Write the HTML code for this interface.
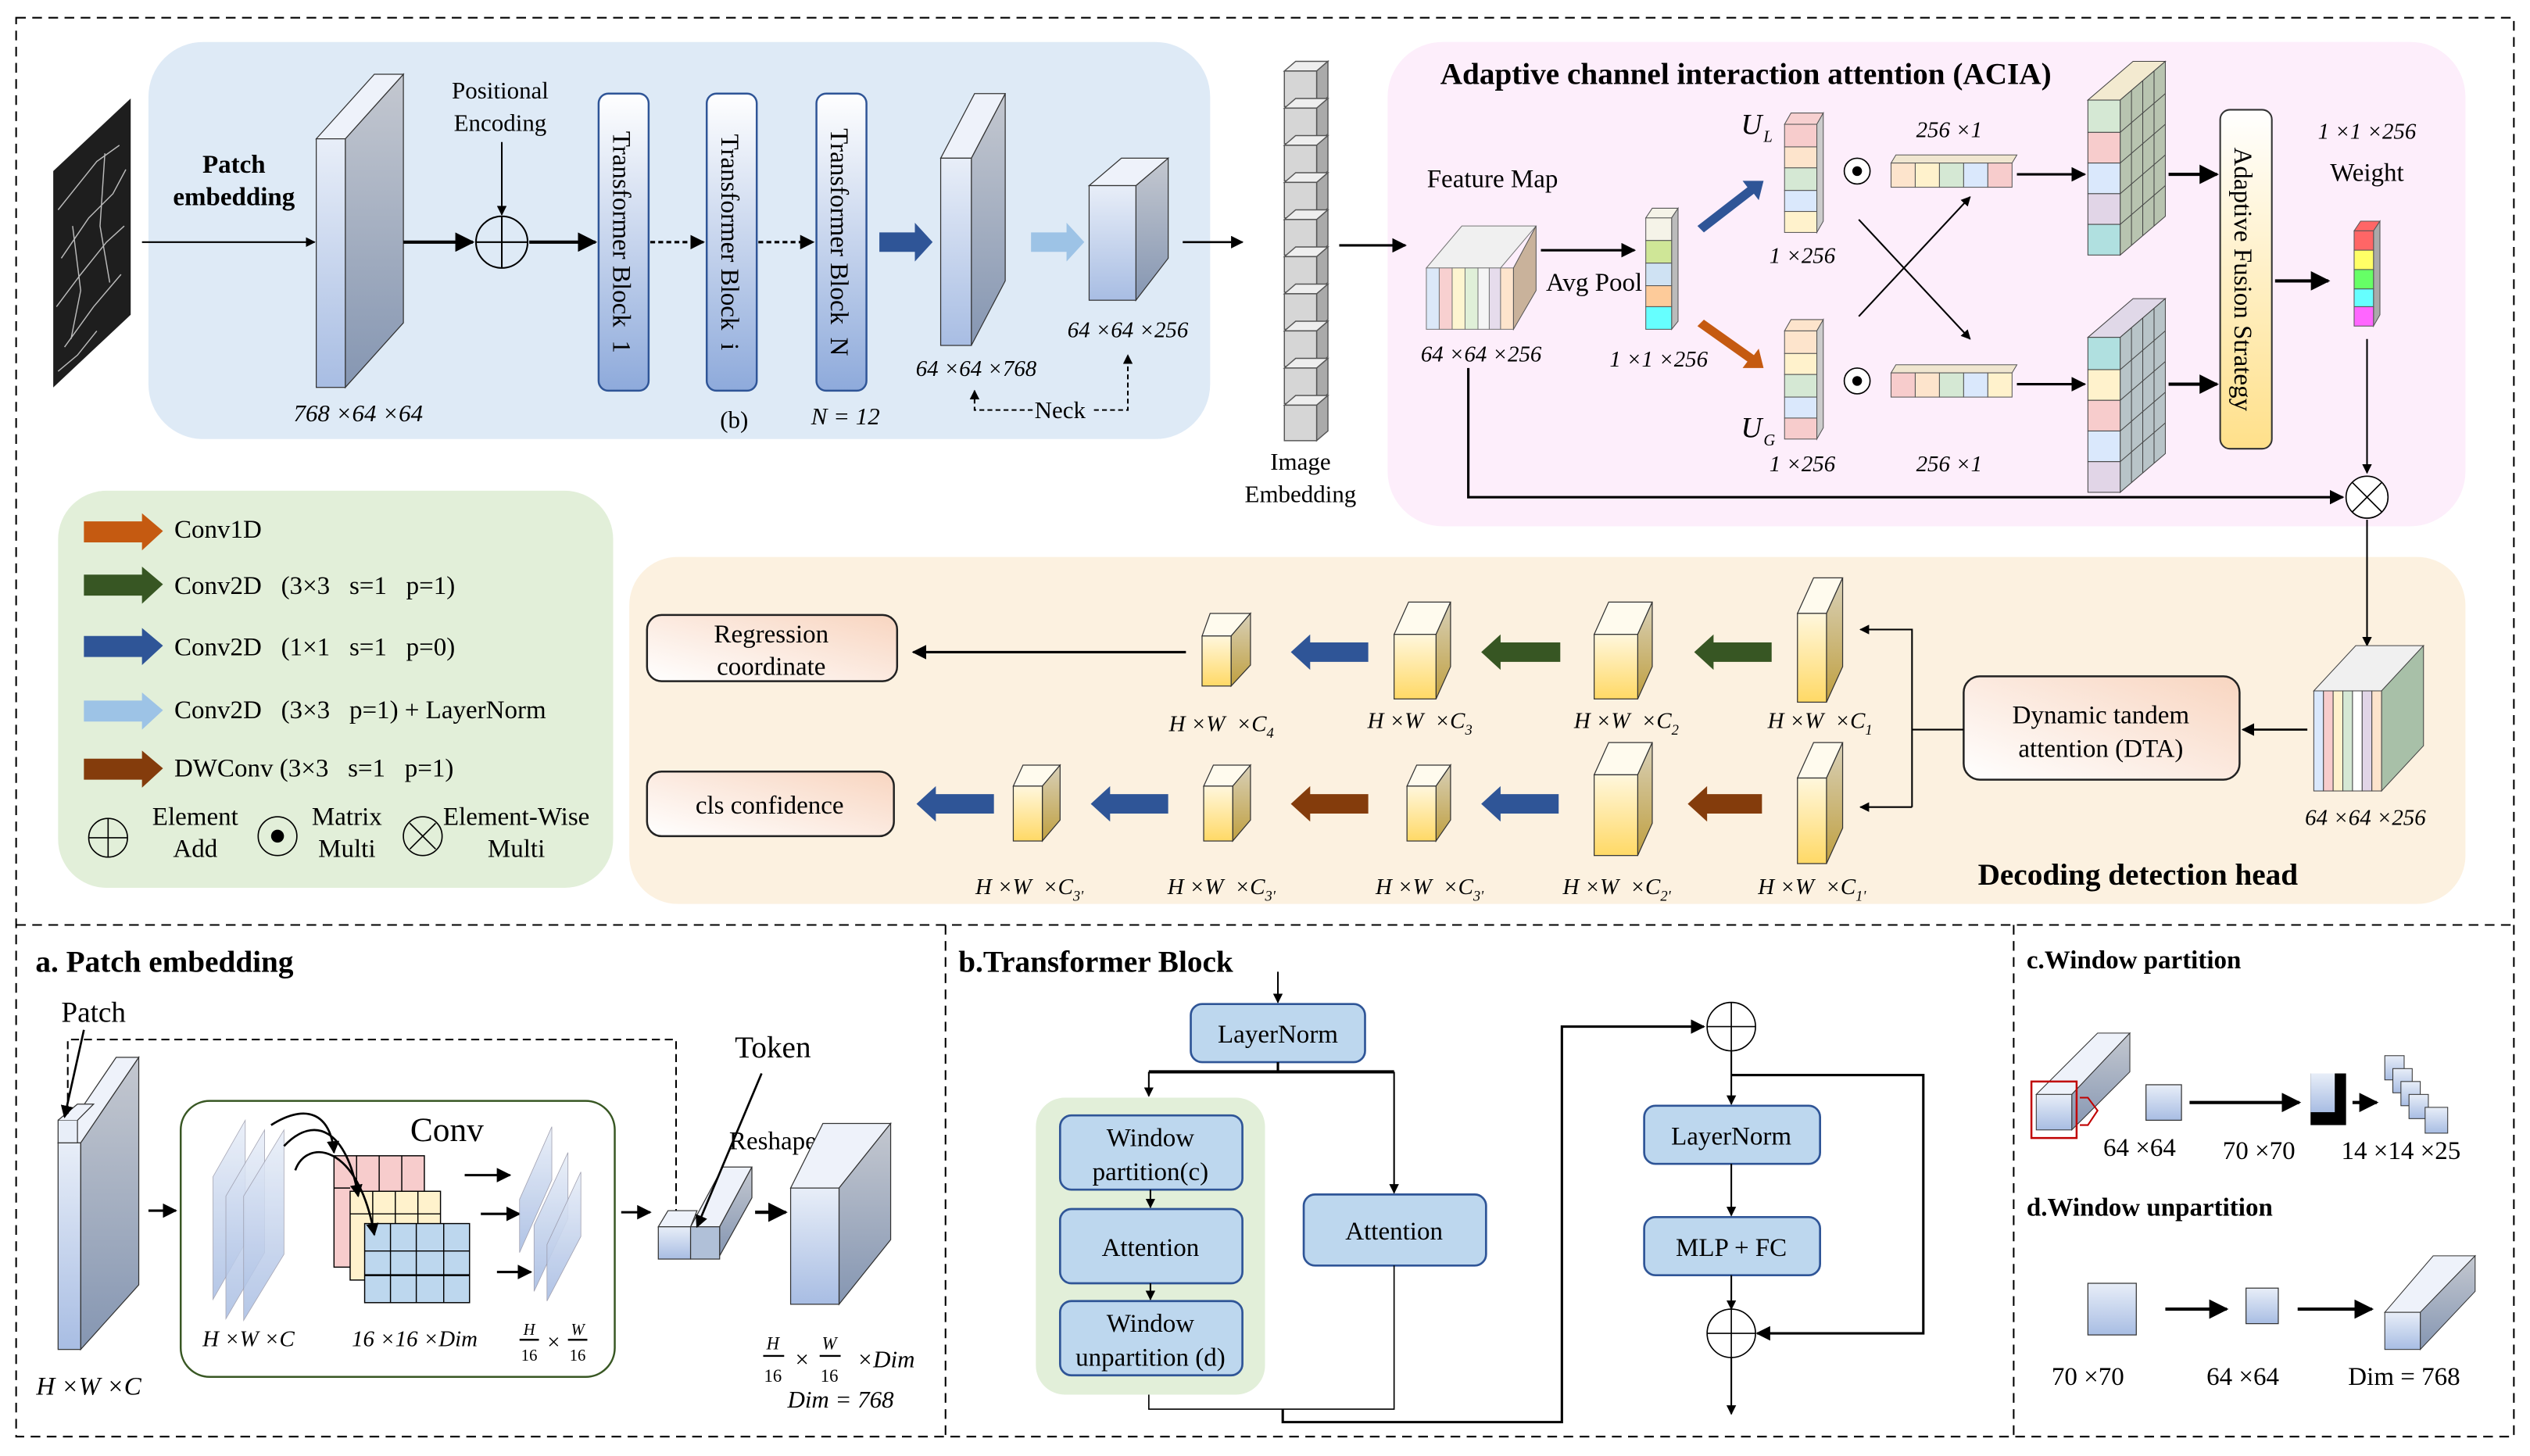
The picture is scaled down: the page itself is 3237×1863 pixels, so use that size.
<!DOCTYPE html>
<html><head><meta charset="utf-8"><style>
html,body{margin:0;padding:0;background:#fff;}
svg{display:block;font-family:"Liberation Serif",serif;}
text{white-space:pre;}
</style></head><body>
<svg width="3237" height="1863" viewBox="0 0 1568 902" preserveAspectRatio="none" xmlns="http://www.w3.org/2000/svg">
<defs>
<marker id="ah" viewBox="0 0 10 10" refX="9" refY="5" markerWidth="6" markerHeight="6" orient="auto"><path d="M0,0 L10,5 L0,10 z" fill="#000"/></marker>
<linearGradient id="gF" x1="0" y1="0" x2="0" y2="1"><stop offset="0" stop-color="#e8eef8"/><stop offset="1" stop-color="#a8bde3"/></linearGradient>
<linearGradient id="gS" x1="0" y1="0" x2="0" y2="1"><stop offset="0" stop-color="#c4c8d0"/><stop offset="1" stop-color="#8596b2"/></linearGradient>
<linearGradient id="gT" x1="0" y1="0" x2="0" y2="1"><stop offset="0" stop-color="#fff"/><stop offset="1" stop-color="#8eaadb"/></linearGradient>
<linearGradient id="gY" x1="0" y1="0" x2="0" y2="1"><stop offset="0" stop-color="#fff7dd"/><stop offset="1" stop-color="#ffd966"/></linearGradient>
<linearGradient id="gYs" x1="0" y1="0" x2="0" y2="1"><stop offset="0" stop-color="#d8d0b8"/><stop offset="1" stop-color="#c0a040"/></linearGradient>
<linearGradient id="gA" x1="0" y1="0" x2="0" y2="1"><stop offset="0" stop-color="#fff"/><stop offset="1" stop-color="#ffe08a"/></linearGradient>
<linearGradient id="gO" x1="0" y1="1" x2="1" y2="0"><stop offset="0" stop-color="#fff"/><stop offset="1" stop-color="#f8d5c0"/></linearGradient>
</defs>
<rect x="0" y="0" width="1568" height="902" fill="#fff"/>
<!-- frame -->
<g fill="none" stroke="#000" stroke-width="1" stroke-dasharray="6,4">
<rect x="10" y="11" width="1548" height="879"/>
<line x1="10" y1="573" x2="1558" y2="573"/>
<line x1="586" y1="573" x2="586" y2="890"/>
<line x1="1248" y1="573" x2="1248" y2="890"/>
</g>
<!-- background panels -->
<rect x="92" y="26" width="658" height="246" rx="34" fill="#deeaf6"/>
<rect x="860" y="26" width="668" height="300" rx="34" fill="#fdeefb"/>
<rect x="36" y="304" width="344" height="246" rx="30" fill="#e2efd9"/>
<rect x="390" y="345" width="1138" height="215" rx="30" fill="#fcf1e0"/>

<!-- SAM encoder -->
<polygon points="33,106 81,61 81,195 33,240" fill="#1e1e1e"/>
<g stroke="#bbb" stroke-width="0.7" fill="none">
<path d="M36,130 L60,100 L74,90"/><path d="M38,160 L55,135 L70,120 L78,105"/><path d="M35,190 L50,170 L66,150 L77,140"/><path d="M40,215 L58,190 L75,170"/><path d="M36,230 L48,220 L60,205"/><path d="M45,140 L50,180 L44,210"/><path d="M65,95 L62,140 L68,175"/>
</g>
<line x1="88" y1="150" x2="195" y2="150" stroke="#000" marker-end="url(#ah)"/>
<text x="145" y="107" font-size="16" font-weight="bold" text-anchor="middle">Patch</text>
<text x="145" y="127" font-size="16" font-weight="bold" text-anchor="middle">embedding</text>
<polygon points="214,86 250,46 250,200 214,240" fill="url(#gS)" stroke="#333" stroke-width="0.6"/>
<polygon points="196,86 232,46 250,46 214,86" fill="#eef2fa" stroke="#333" stroke-width="0.6"/>
<rect x="196" y="86" width="18" height="154" fill="url(#gF)" stroke="#333" stroke-width="0.6"/>
<text x="222" y="261" font-size="15" font-style="italic" text-anchor="middle">768 ×64 ×64</text>
<line x1="250" y1="150" x2="293" y2="150" stroke="#000" stroke-width="2" marker-end="url(#ah)"/>
<text x="310" y="61" font-size="15" text-anchor="middle">Positional</text>
<text x="310" y="81" font-size="15" text-anchor="middle">Encoding</text>
<line x1="311" y1="88" x2="311" y2="133" stroke="#000" marker-end="url(#ah)"/>
<circle cx="311" cy="150" r="16" fill="none" stroke="#000"/><line x1="295" y1="150" x2="327" y2="150" stroke="#000"/><line x1="311" y1="134" x2="311" y2="166" stroke="#000"/>
<line x1="328" y1="150" x2="369" y2="150" stroke="#000" stroke-width="2" marker-end="url(#ah)"/>
<g stroke="#2f5597" stroke-width="1.2" fill="url(#gT)">
<rect x="371" y="58" width="31" height="184" rx="6"/>
<rect x="438" y="58" width="31" height="184" rx="6"/>
<rect x="506" y="58" width="31" height="184" rx="6"/>
</g>
<text transform="translate(380,150) rotate(90)" font-size="16" text-anchor="middle">Transformer Block  1</text>
<text transform="translate(447,150) rotate(90)" font-size="16" text-anchor="middle">Transformer Block  i</text>
<text transform="translate(515,150) rotate(90)" font-size="16" text-anchor="middle">Transformer Block  N</text>
<line x1="403" y1="150" x2="436" y2="150" stroke="#000" stroke-width="1.5" stroke-dasharray="3,2" marker-end="url(#ah)"/>
<line x1="470" y1="150" x2="504" y2="150" stroke="#000" stroke-width="1.5" stroke-dasharray="3,2" marker-end="url(#ah)"/>
<text x="455" y="265" font-size="15" text-anchor="middle">(b)</text>
<text x="524" y="263" font-size="15" font-style="italic" text-anchor="middle">N = 12</text>
<polygon points="545,144 567,144 567,138 578,150 567,162 567,156 545,156" fill="#2f5597"/>
<polygon points="623,58 623,174 602,214 602,98" fill="url(#gS)" stroke="#333" stroke-width="0.6"/>
<polygon points="583,98 604,58 623,58 602,98" fill="#eef2fa" stroke="#333" stroke-width="0.6"/>
<rect x="583" y="98" width="19" height="116" fill="url(#gF)" stroke="#333" stroke-width="0.6"/>
<polygon points="639,144 661,144 661,138 672,150 661,162 661,156 639,156" fill="#9dc3e6"/>
<polygon points="724,98 724,160 704,186 704,115" fill="url(#gS)" stroke="#333" stroke-width="0.6"/>
<polygon points="675,115 695,98 724,98 704,115" fill="#eef2fa" stroke="#333" stroke-width="0.6"/>
<rect x="675" y="115" width="29" height="71" fill="url(#gF)" stroke="#333" stroke-width="0.6"/>
<text x="605" y="233" font-size="14" font-style="italic" text-anchor="middle">64 ×64 ×768</text>
<text x="699" y="209" font-size="14" font-style="italic" text-anchor="middle">64 ×64 ×256</text>
<polyline points="640,254 604,254 604,242" fill="none" stroke="#000" stroke-dasharray="3,2" marker-end="url(#ah)"/>
<polyline points="678,254 699,254 699,220" fill="none" stroke="#000" stroke-dasharray="3,2" marker-end="url(#ah)"/>
<text x="657" y="259" font-size="15" text-anchor="middle">Neck</text>
<line x1="733" y1="150" x2="770" y2="150" stroke="#000" stroke-width="1.3" marker-end="url(#ah)"/>
<!-- image embedding cubes -->
<g stroke="#555" stroke-width="0.7">
<g id="cb"><polygon points="796,44 803,38 823,38 816,44" fill="#eee"/><polygon points="816,44 823,38 823,60 816,66" fill="#aaa"/><rect x="796" y="44" width="20" height="22" fill="#d6d6d6"/></g>
<use href="#cb" y="23"/><use href="#cb" y="46"/><use href="#cb" y="69"/><use href="#cb" y="92"/><use href="#cb" y="115"/><use href="#cb" y="138"/><use href="#cb" y="161"/><use href="#cb" y="184"/><use href="#cb" y="207"/>
</g>
<text x="806" y="291" font-size="15" text-anchor="middle">Image</text>
<text x="806" y="311" font-size="15" text-anchor="middle">Embedding</text>
<line x1="830" y1="152" x2="871" y2="152" stroke="#000" stroke-width="1.5" marker-end="url(#ah)"/>

<!-- ACIA -->
<text x="1082" y="52" font-size="19" font-weight="bold" text-anchor="middle">Adaptive channel interaction attention (ACIA)</text>
<text x="925" y="116" font-size="16" text-anchor="middle">Feature Map</text>
<g stroke="#777" stroke-width="0.5">
<polygon points="884,166 906,140 952,140 930,166" fill="#f0f0f0"/>
<rect x="884" y="166" width="8" height="38" fill="#dbe8f8"/><rect x="892" y="166" width="8" height="38" fill="#f8d0d0"/><rect x="900" y="166" width="8" height="38" fill="#fdf5d0"/><rect x="908" y="166" width="8" height="38" fill="#e0f0d8"/><rect x="916" y="166" width="7" height="38" fill="#f5f5f5"/><rect x="923" y="166" width="7" height="38" fill="#e6dcec"/><rect x="930" y="166" width="8" height="38" fill="#fde4cc"/>
</g>
<polygon points="938,166 952,140 952,180 938,204" fill="#c9b29b" stroke="#555" stroke-width="0.5"/>
<text x="918" y="224" font-size="14" font-style="italic" text-anchor="middle">64 ×64 ×256</text>
<line x1="955" y1="155" x2="1013" y2="155" stroke="#000" stroke-width="1.5" marker-end="url(#ah)"/>
<text x="988" y="180" font-size="16" text-anchor="middle">Avg Pool</text>
<g stroke="#555" stroke-width="0.5">
<polygon points="1020,135 1024,129 1040,129 1036,135" fill="#f5f3e8"/><polygon points="1036,135 1040,129 1040,199 1036,204" fill="#bbb"/>
<rect x="1020" y="135" width="16" height="14" fill="#f5f3e8"/><rect x="1020" y="149" width="16" height="14" fill="#cfe697"/><rect x="1020" y="163" width="16" height="14" fill="#cfe2f3"/><rect x="1020" y="177" width="16" height="13" fill="#fdcb9a"/><rect x="1020" y="190" width="16" height="14" fill="#66ffff"/>
</g>
<text x="1028" y="227" font-size="14" font-style="italic" text-anchor="middle">1 ×1 ×256</text>
<polygon points="1052,140 1083,116 1080,112 1093,112 1090,124 1087,120 1056,144" fill="#2f5597"/>
<polygon points="1052,202 1056,198 1087,220 1090,216 1093,228 1080,228 1083,224" fill="#c55a11"/>
<g stroke="#555" stroke-width="0.5">
<polygon points="1106,77 1110,70 1130,70 1126,77" fill="#f7d0d0"/><polygon points="1126,77 1130,70 1130,137 1126,144" fill="#ccc"/>
<rect x="1106" y="77" width="20" height="14" fill="#f7cccc"/><rect x="1106" y="91" width="20" height="13" fill="#fde4cc"/><rect x="1106" y="104" width="20" height="14" fill="#d5e8d4"/><rect x="1106" y="118" width="20" height="13" fill="#dae8fc"/><rect x="1106" y="131" width="20" height="13" fill="#fff2cc"/>
<polygon points="1106,205 1110,198 1130,198 1126,205" fill="#fde4cc"/><polygon points="1126,205 1130,198 1130,265 1126,272" fill="#ccc"/>
<rect x="1106" y="205" width="20" height="14" fill="#fde4cc"/><rect x="1106" y="219" width="20" height="13" fill="#fff2cc"/><rect x="1106" y="232" width="20" height="14" fill="#d5e8d4"/><rect x="1106" y="246" width="20" height="13" fill="#dae8fc"/><rect x="1106" y="259" width="20" height="13" fill="#f7cccc"/>
</g>
<text x="1079" y="83" font-size="18" font-style="italic">U</text><text x="1093" y="88" font-size="10" font-style="italic">L</text>
<text x="1079" y="271" font-size="18" font-style="italic">U</text><text x="1093" y="276" font-size="10" font-style="italic">G</text>
<text x="1117" y="163" font-size="14" font-style="italic" text-anchor="middle">1 ×256</text>
<text x="1117" y="292" font-size="14" font-style="italic" text-anchor="middle">1 ×256</text>
<circle cx="1151" cy="106" r="8" fill="#fff" stroke="#000" stroke-width="0.8"/><circle cx="1151" cy="106" r="3" fill="#000"/>
<circle cx="1151" cy="236" r="8" fill="#fff" stroke="#000" stroke-width="0.8"/><circle cx="1151" cy="236" r="3" fill="#000"/>
<g stroke="#555" stroke-width="0.5">
<polygon points="1172,101 1175,96 1250,96 1247,101" fill="#f0e6d0"/>
<rect x="1172" y="101" width="15" height="15" fill="#fde4cc"/><rect x="1187" y="101" width="15" height="15" fill="#fff2cc"/><rect x="1202" y="101" width="15" height="15" fill="#d5e8d4"/><rect x="1217" y="101" width="15" height="15" fill="#dae8fc"/><rect x="1232" y="101" width="15" height="15" fill="#f7cccc"/>
<polygon points="1172,231 1175,226 1250,226 1247,231" fill="#f0e6d0"/>
<rect x="1172" y="231" width="15" height="15" fill="#f7cccc"/><rect x="1187" y="231" width="15" height="15" fill="#fde4cc"/><rect x="1202" y="231" width="15" height="15" fill="#d5e8d4"/><rect x="1217" y="231" width="15" height="15" fill="#dae8fc"/><rect x="1232" y="231" width="15" height="15" fill="#fff2cc"/>
</g>
<text x="1208" y="85" font-size="14" font-style="italic" text-anchor="middle">256 ×1</text>
<text x="1208" y="292" font-size="14" font-style="italic" text-anchor="middle">256 ×1</text>
<line x1="1152" y1="196" x2="1221" y2="122" stroke="#000" marker-end="url(#ah)"/>
<line x1="1152" y1="136" x2="1221" y2="210" stroke="#000" marker-end="url(#ah)"/>
<line x1="1250" y1="108" x2="1292" y2="108" stroke="#000" stroke-width="1.5" marker-end="url(#ah)"/>
<line x1="1250" y1="238" x2="1292" y2="238" stroke="#000" stroke-width="1.5" marker-end="url(#ah)"/>
<g stroke="#444" stroke-width="0.5">
<polygon points="1294,62 1322,38 1342,38 1314,62" fill="#f3ead0"/>
<polygon points="1314,62 1342,38 1342,134 1314,158" fill="#b8c4b0"/>
<rect x="1294" y="62" width="20" height="20" fill="#d5e8d4"/><rect x="1294" y="82" width="20" height="19" fill="#f7cccc"/><rect x="1294" y="101" width="20" height="19" fill="#dae8fc"/><rect x="1294" y="120" width="20" height="19" fill="#e1d5e7"/><rect x="1294" y="139" width="20" height="19" fill="#b0e0e0"/>
<line x1="1314" y1="82" x2="1342" y2="58" /><line x1="1314" y1="101" x2="1342" y2="77"/><line x1="1314" y1="120" x2="1342" y2="96"/><line x1="1314" y1="139" x2="1342" y2="115"/>
<line x1="1321" y1="56" x2="1321" y2="152"/><line x1="1328" y1="50" x2="1328" y2="146"/><line x1="1335" y1="44" x2="1335" y2="140"/>
<polygon points="1294,209 1322,185 1342,185 1314,209" fill="#e0d8e8"/>
<polygon points="1314,209 1342,185 1342,281 1314,305" fill="#b8c4c8"/>
<rect x="1294" y="209" width="20" height="20" fill="#b0e0e0"/><rect x="1294" y="229" width="20" height="19" fill="#fff2cc"/><rect x="1294" y="248" width="20" height="19" fill="#f7cccc"/><rect x="1294" y="267" width="20" height="19" fill="#dae8fc"/><rect x="1294" y="286" width="20" height="19" fill="#e1d5e7"/>
<line x1="1314" y1="229" x2="1342" y2="205"/><line x1="1314" y1="248" x2="1342" y2="224"/><line x1="1314" y1="267" x2="1342" y2="243"/><line x1="1314" y1="286" x2="1342" y2="262"/>
<line x1="1321" y1="203" x2="1321" y2="299"/><line x1="1328" y1="197" x2="1328" y2="293"/><line x1="1335" y1="191" x2="1335" y2="287"/>
</g>
<line x1="1344" y1="108" x2="1374" y2="108" stroke="#000" stroke-width="2" marker-end="url(#ah)"/>
<line x1="1344" y1="238" x2="1374" y2="238" stroke="#000" stroke-width="2" marker-end="url(#ah)"/>
<rect x="1376" y="68" width="32" height="210" rx="6" fill="url(#gA)" stroke="#333" stroke-width="1"/>
<text transform="translate(1385,173) rotate(90)" font-size="16" text-anchor="middle">Adaptive Fusion Strategy</text>
<line x1="1410" y1="174" x2="1443" y2="174" stroke="#000" stroke-width="2" marker-end="url(#ah)"/>
<text x="1467" y="86" font-size="14" font-style="italic" text-anchor="middle">1 ×1 ×256</text>
<text x="1467" y="112" font-size="16" text-anchor="middle">Weight</text>
<g stroke="#555" stroke-width="0.5">
<polygon points="1459,143 1463,137 1475,137 1471,143" fill="#ff6666"/><polygon points="1471,143 1475,137 1475,195 1471,202" fill="#aaa"/>
<rect x="1459" y="143" width="12" height="12" fill="#ff6666"/><rect x="1459" y="155" width="12" height="12" fill="#ffff66"/><rect x="1459" y="167" width="12" height="12" fill="#66ff66"/><rect x="1459" y="179" width="12" height="11" fill="#66ffff"/><rect x="1459" y="190" width="12" height="12" fill="#ff66ff"/>
</g>
<line x1="1467" y1="210" x2="1467" y2="293" stroke="#000" marker-end="url(#ah)"/>
<circle cx="1467" cy="308" r="13" fill="#fff" stroke="#000" stroke-width="0.8"/>
<line x1="1458" y1="299" x2="1476" y2="317" stroke="#000" stroke-width="0.8"/><line x1="1476" y1="299" x2="1458" y2="317" stroke="#000" stroke-width="0.8"/>
<polyline points="910,228 910,308 1452,308" fill="none" stroke="#000" stroke-width="1.5" marker-end="url(#ah)"/>
<line x1="1467" y1="322" x2="1467" y2="400" stroke="#000" marker-end="url(#ah)"/>

<!-- Legend -->
<polygon points="52,323 88,323 88,318 101,329 88,341 88,336 52,336" fill="#c55a11"/>
<text x="108" y="333" font-size="16">Conv1D</text>
<polygon points="52,356 88,356 88,351 101,362 88,374 88,369 52,369" fill="#375623"/>
<text x="108" y="368" font-size="16">Conv2D   (3×3   s=1   p=1)</text>
<polygon points="52,394 88,394 88,389 101,400 88,412 88,407 52,407" fill="#2f5597"/>
<text x="108" y="406" font-size="16">Conv2D   (1×1   s=1   p=0)</text>
<polygon points="52,434 88,434 88,429 101,440 88,452 88,447 52,447" fill="#9dc3e6"/>
<text x="108" y="445" font-size="16">Conv2D   (3×3   p=1) + LayerNorm</text>
<polygon points="52,470 88,470 88,465 101,476 88,488 88,483 52,483" fill="#843c0c"/>
<text x="108" y="481" font-size="16">DWConv (3×3   s=1   p=1)</text>
<circle cx="67" cy="519" r="12" fill="none" stroke="#000" stroke-width="0.8"/><line x1="55" y1="519" x2="79" y2="519" stroke="#000" stroke-width="0.8"/><line x1="67" y1="507" x2="67" y2="531" stroke="#000" stroke-width="0.8"/>
<text x="121" y="511" font-size="16" text-anchor="middle">Element</text><text x="121" y="531" font-size="16" text-anchor="middle">Add</text>
<circle cx="172" cy="518" r="12" fill="none" stroke="#000" stroke-width="0.8"/><circle cx="172" cy="518" r="4" fill="#000"/>
<text x="215" y="511" font-size="16" text-anchor="middle">Matrix</text><text x="215" y="531" font-size="16" text-anchor="middle">Multi</text>
<circle cx="262" cy="518" r="12" fill="none" stroke="#000" stroke-width="0.8"/><line x1="254" y1="510" x2="270" y2="526" stroke="#000" stroke-width="0.8"/><line x1="270" y1="510" x2="254" y2="526" stroke="#000" stroke-width="0.8"/>
<text x="320" y="511" font-size="16" text-anchor="middle">Element-Wise</text><text x="320" y="531" font-size="16" text-anchor="middle">Multi</text>

<!-- Decoding head -->
<g stroke="#444" stroke-width="0.5">
<polygon points="1434,428 1460,400 1502,400 1476,428" fill="#f0f0f0"/>
<polygon points="1476,428 1502,400 1502,462 1476,490" fill="#a8c0a8"/>
<rect x="1434" y="428" width="6" height="62" fill="#dae8fc"/><rect x="1440" y="428" width="6" height="62" fill="#f7cccc"/><rect x="1446" y="428" width="6" height="62" fill="#fff2cc"/><rect x="1452" y="428" width="6" height="62" fill="#d5e8d4"/><rect x="1458" y="428" width="6" height="62" fill="#fff"/><rect x="1464" y="428" width="6" height="62" fill="#e1d5e7"/><rect x="1470" y="428" width="6" height="62" fill="#fde4cc"/>
</g>
<text x="1466" y="511" font-size="14" font-style="italic" text-anchor="middle">64 ×64 ×256</text>
<line x1="1430" y1="452" x2="1390" y2="452" stroke="#000" stroke-width="1.3" marker-end="url(#ah)"/>
<rect x="1217" y="419" width="171" height="64" rx="10" fill="url(#gO)" stroke="#222" stroke-width="1.2"/>
<text x="1302" y="448" font-size="16" text-anchor="middle">Dynamic tandem</text>
<text x="1302" y="469" font-size="16" text-anchor="middle">attention (DTA)</text>
<polyline points="1217,452 1185,452" fill="none" stroke="#000"/>
<polyline points="1185,500 1185,390 1153,390" fill="none" stroke="#000" marker-end="url(#ah)"/>
<line x1="1185" y1="500" x2="1153" y2="500" stroke="#000" marker-end="url(#ah)"/>
<g stroke="#333" stroke-width="0.6">
<polygon points="1114,380 1124,358 1142,358 1132,380" fill="#fffbee"/><polygon points="1132,380 1142,358 1142,413 1132,435" fill="url(#gYs)"/><rect x="1114" y="380" width="18" height="55" fill="url(#gY)"/>
<polygon points="988,393 997,373 1024,373 1015,393" fill="#fffbee"/><polygon points="1015,393 1024,373 1024,413 1015,433" fill="url(#gYs)"/><rect x="988" y="393" width="27" height="40" fill="url(#gY)"/>
<polygon points="864,393 873,373 899,373 890,393" fill="#fffbee"/><polygon points="890,393 899,373 899,413 890,433" fill="url(#gYs)"/><rect x="864" y="393" width="26" height="40" fill="url(#gY)"/>
<polygon points="745,394 750,380 775,380 763,394" fill="#fffbee"/><polygon points="763,394 775,380 775,412 763,425" fill="url(#gYs)"/><rect x="745" y="394" width="18" height="31" fill="url(#gY)"/>
<polygon points="1114,482 1124,460 1142,460 1132,482" fill="#fffbee"/><polygon points="1132,482 1142,460 1142,513 1132,535" fill="url(#gYs)"/><rect x="1114" y="482" width="18" height="53" fill="url(#gY)"/>
<polygon points="988,480 997,460 1024,460 1015,480" fill="#fffbee"/><polygon points="1015,480 1024,460 1024,510 1015,530" fill="url(#gYs)"/><rect x="988" y="480" width="27" height="50" fill="url(#gY)"/>
<polygon points="872,487 878,474 899,474 890,487" fill="#fffbee"/><polygon points="890,487 899,474 899,508 890,521" fill="url(#gYs)"/><rect x="872" y="487" width="18" height="34" fill="url(#gY)"/>
<polygon points="746,487 752,474 775,474 764,487" fill="#fffbee"/><polygon points="764,487 775,474 775,508 764,521" fill="url(#gYs)"/><rect x="746" y="487" width="18" height="34" fill="url(#gY)"/>
<polygon points="628,487 634,474 657,474 646,487" fill="#fffbee"/><polygon points="646,487 657,474 657,508 646,521" fill="url(#gYs)"/><rect x="628" y="487" width="18" height="34" fill="url(#gY)"/>
</g>
<g font-size="14" font-style="italic" text-anchor="middle">
<text x="1128" y="451">H ×W  ×C<tspan font-size="9" dy="4">1</tspan></text>
<text x="1008" y="451">H ×W  ×C<tspan font-size="9" dy="4">2</tspan></text>
<text x="880" y="451">H ×W  ×C<tspan font-size="9" dy="4">3</tspan></text>
<text x="757" y="453">H ×W  ×C<tspan font-size="9" dy="4">4</tspan></text>
<text x="1123" y="554">H ×W  ×C<tspan font-size="9" dy="4">1'</tspan></text>
<text x="1002" y="554">H ×W  ×C<tspan font-size="9" dy="4">2'</tspan></text>
<text x="886" y="554">H ×W  ×C<tspan font-size="9" dy="4">3'</tspan></text>
<text x="757" y="554">H ×W  ×C<tspan font-size="9" dy="4">3'</tspan></text>
<text x="638" y="554">H ×W  ×C<tspan font-size="9" dy="4">3'</tspan></text>
</g>
<polygon points="1098,398 1062,398 1062,393 1050,404 1062,415 1062,410 1098,410" fill="#375623"/>
<polygon points="967,398 930,398 930,393 918,404 930,415 930,410 967,410" fill="#375623"/>
<polygon points="848,398 812,398 812,393 800,404 812,415 812,410 848,410" fill="#2f5597"/>
<line x1="735" y1="404" x2="566" y2="404" stroke="#000" stroke-width="1.5" marker-end="url(#ah)"/>
<polygon points="1092,492 1058,492 1058,487 1046,498 1058,509 1058,504 1092,504" fill="#843c0c"/>
<polygon points="966,492 930,492 930,487 918,498 930,509 930,504 966,504" fill="#2f5597"/>
<polygon points="848,492 812,492 812,487 800,498 812,509 812,504 848,504" fill="#843c0c"/>
<polygon points="724,492 688,492 688,487 676,498 688,509 688,504 724,504" fill="#2f5597"/>
<polygon points="616,492 580,492 580,487 568,498 580,509 580,504 616,504" fill="#2f5597"/>
<rect x="401" y="381" width="155" height="41" rx="9" fill="url(#gO)" stroke="#222" stroke-width="1.2"/>
<text x="478" y="398" font-size="16" text-anchor="middle">Regression</text>
<text x="478" y="418" font-size="16" text-anchor="middle">coordinate</text>
<rect x="401" y="478" width="153" height="40" rx="9" fill="url(#gO)" stroke="#222" stroke-width="1.2"/>
<text x="477" y="504" font-size="16" text-anchor="middle">cls confidence</text>
<text x="1325" y="548" font-size="19" font-weight="bold" text-anchor="middle">Decoding detection head</text>

<!-- Panel a -->
<text x="22" y="602" font-size="19" font-weight="bold">a. Patch embedding</text>
<text x="38" y="633" font-size="18">Patch</text>
<polygon points="50,708 86,655 86,796 50,836" fill="url(#gS)" stroke="#333" stroke-width="0.6"/>
<polygon points="36,708 72,655 86,655 50,708" fill="#eef2fa" stroke="#333" stroke-width="0.6"/>
<rect x="36" y="708" width="14" height="128" fill="url(#gF)" stroke="#333" stroke-width="0.6"/>
<rect x="36" y="694" width="12" height="14" fill="#e8eef8" stroke="#333" stroke-width="0.6"/>
<polyline points="36,694 48,684 58,684 48,694" fill="#eef2fa" stroke="#333" stroke-width="0.6"/>
<line x1="52" y1="638" x2="40" y2="692" stroke="#000" stroke-width="1.3" marker-end="url(#ah)"/>
<polyline points="42,690 42,644 419,644 419,758" fill="none" stroke="#000" stroke-width="1" stroke-dasharray="5,3" marker-end="url(#ah)"/>
<text x="55" y="864" font-size="16" font-style="italic" text-anchor="middle">H ×W ×C</text>
<line x1="92" y1="750" x2="109" y2="750" stroke="#000" stroke-width="1.5" marker-end="url(#ah)"/>
<rect x="112" y="682" width="269" height="171" rx="18" fill="#fff" stroke="#385723" stroke-width="1.2"/>
<text x="277" y="707" font-size="21" text-anchor="middle">Conv</text>
<g stroke="#99a" stroke-width="0.4">
<polygon points="132,729 152,694 152,770 132,805" fill="url(#gF)" opacity="0.85"/>
<polygon points="140,741 164,700 164,776 140,817" fill="url(#gF)" opacity="0.85"/>
<polygon points="151,751 176,710 176,787 151,828" fill="url(#gF)" opacity="0.85" transform="translate(0,-10)"/>
</g>
<g stroke="#000" stroke-width="0.7">
<rect x="207" y="716" width="56" height="69" fill="#f7cccc"/>
<rect x="217" y="738" width="56" height="55" fill="#fff2cc"/>
<rect x="226" y="758" width="65" height="49" fill="#bdd7ee"/>
<line x1="242" y1="758" x2="242" y2="807"/><line x1="258" y1="758" x2="258" y2="807"/><line x1="275" y1="758" x2="275" y2="807"/><line x1="226" y1="775" x2="291" y2="775"/><line x1="226" y1="790" x2="291" y2="790" stroke-width="1.2"/>
<line x1="221" y1="716" x2="221" y2="738"/><line x1="235" y1="716" x2="235" y2="738"/><line x1="249" y1="716" x2="249" y2="738"/><line x1="207" y1="736" x2="217" y2="736"/>
<line x1="231" y1="738" x2="231" y2="758"/><line x1="245" y1="738" x2="245" y2="758"/><line x1="259" y1="738" x2="259" y2="758"/><line x1="217" y1="752" x2="273" y2="752"/>
</g>
<g fill="none" stroke="#000" stroke-width="1.3">
<path d="M168,697 C190,683 205,690 207,714" marker-end="url(#ah)"/>
<path d="M176,710 C195,690 215,700 222,741" marker-end="url(#ah)"/>
<path d="M183,725 C190,705 222,708 232,765" marker-end="url(#ah)"/>
</g>
<line x1="288" y1="728" x2="316" y2="728" stroke="#000" stroke-width="1.5" marker-end="url(#ah)"/>
<line x1="298" y1="752" x2="322" y2="752" stroke="#000" stroke-width="1.5" marker-end="url(#ah)"/>
<line x1="308" y1="788" x2="329" y2="788" stroke="#000" stroke-width="1.5" marker-end="url(#ah)"/>
<g stroke="#99a" stroke-width="0.4">
<polygon points="322,743 342,698 342,731 322,776" fill="url(#gF)" opacity="0.9"/>
<polygon points="331,759 352,714 352,755 331,800" fill="url(#gF)" opacity="0.9"/>
<polygon points="339,771 360,726 360,766 339,806" fill="url(#gF)" opacity="0.9"/>
</g>
<g font-size="14" font-style="italic" text-anchor="middle">
<text x="154" y="834">H ×W ×C</text>
<text x="257" y="834">16 ×16 ×Dim</text>
<text x="328" y="827" font-size="10">H</text><line x1="322" y1="830" x2="334" y2="830" stroke="#000" stroke-width="1.2"/><text x="328" y="843" font-size="10" font-style="normal">16</text>
<text x="343" y="836">×</text>
<text x="358" y="827" font-size="10">W</text><line x1="352" y1="830" x2="364" y2="830" stroke="#000" stroke-width="1.2"/><text x="358" y="843" font-size="10" font-style="normal">16</text>
</g>
<line x1="385" y1="751" x2="403" y2="751" stroke="#000" stroke-width="1.5" marker-end="url(#ah)"/>
<polygon points="428,760 448,723 466,723 446,760" fill="#eef2fa" stroke="#333" stroke-width="0.6"/>
<polygon points="446,760 466,723 466,742 446,778" fill="url(#gS)" stroke="#333" stroke-width="0.6"/>
<polygon points="408,760 414,750 432,750 428,760" fill="#eef2fa" stroke="#333" stroke-width="0.6"/>
<rect x="408" y="760" width="20" height="20" fill="url(#gF)" stroke="#333" stroke-width="0.6"/>
<rect x="428" y="760" width="18" height="20" fill="#b0c0d8" stroke="#333" stroke-width="0.6"/>
<text x="479" y="655" font-size="19" text-anchor="middle">Token</text>
<line x1="472" y1="665" x2="432" y2="760" stroke="#000" stroke-width="1.3" marker-end="url(#ah)"/>
<text x="479" y="712" font-size="16" text-anchor="middle">Reshape</text>
<line x1="468" y1="751" x2="487" y2="751" stroke="#000" stroke-width="2" marker-end="url(#ah)"/>
<polygon points="490,736 510,696 552,696 520,736" fill="#eef2fa" stroke="#333" stroke-width="0.6"/>
<polygon points="520,736 552,696 552,768 520,808" fill="url(#gS)" stroke="#333" stroke-width="0.6"/>
<rect x="490" y="736" width="30" height="72" fill="url(#gF)" stroke="#333" stroke-width="0.6"/>
<g font-size="15" font-style="italic" text-anchor="middle">
<text x="479" y="836" font-size="11">H</text><line x1="473" y1="840" x2="486" y2="840" stroke="#000" stroke-width="1.2"/><text x="479" y="856" font-size="11" font-style="normal">16</text>
<text x="497" y="847">×</text>
<text x="514" y="836" font-size="11">W</text><line x1="508" y1="840" x2="521" y2="840" stroke="#000" stroke-width="1.2"/><text x="514" y="856" font-size="11" font-style="normal">16</text>
<text x="549" y="847">×Dim</text>
<text x="521" y="872">Dim = 768</text>
</g>

<!-- Panel b -->
<text x="594" y="602" font-size="19" font-weight="bold">b.Transformer Block</text>
<line x1="792" y1="602" x2="792" y2="621" stroke="#000" marker-end="url(#ah)"/>
<rect x="642" y="680" width="142" height="184" rx="18" fill="#e2efd9"/>
<g fill="#bdd7ee" stroke="#2f5597" stroke-width="1.3">
<rect x="738" y="622" width="108" height="36" rx="7"/>
<rect x="657" y="691" width="113" height="46" rx="7"/>
<rect x="657" y="749" width="113" height="46" rx="7"/>
<rect x="657" y="806" width="113" height="46" rx="7"/>
<rect x="808" y="740" width="113" height="44" rx="7"/>
<rect x="1019" y="685" width="109" height="36" rx="7"/>
<rect x="1019" y="754" width="109" height="36" rx="7"/>
</g>
<g font-size="16" text-anchor="middle">
<text x="792" y="646">LayerNorm</text>
<text x="713" y="710">Window</text><text x="713" y="731">partition(c)</text>
<text x="713" y="778">Attention</text>
<text x="713" y="825">Window</text><text x="713" y="846">unpartition (d)</text>
<text x="864" y="768">Attention</text>
<text x="1073" y="709">LayerNorm</text>
<text x="1073" y="778">MLP + FC</text>
</g>
<line x1="792" y1="658" x2="792" y2="664" stroke="#000" stroke-width="1.5"/>
<polyline points="712,664 864,664" fill="none" stroke="#000" stroke-width="2"/>
<line x1="712" y1="664" x2="712" y2="679" stroke="#000" marker-end="url(#ah)"/>
<line x1="864" y1="664" x2="864" y2="739" stroke="#000" marker-end="url(#ah)"/>
<line x1="713" y1="737" x2="713" y2="748" stroke="#000" marker-end="url(#ah)"/>
<line x1="713" y1="795" x2="713" y2="805" stroke="#000" marker-end="url(#ah)"/>
<polyline points="712,864 712,873 864,873 864,784" fill="none" stroke="#000" stroke-width="0.8"/>
<polyline points="795,873 795,881 968,881 968,636 1056,636" fill="none" stroke="#000" stroke-width="1.5" marker-end="url(#ah)"/>
<circle cx="1073" cy="636" r="15" fill="#fff" stroke="#000" stroke-width="0.8"/><line x1="1058" y1="636" x2="1088" y2="636" stroke="#000" stroke-width="0.8"/><line x1="1073" y1="621" x2="1073" y2="651" stroke="#000" stroke-width="0.8"/>
<circle cx="1073" cy="826" r="15" fill="#fff" stroke="#000" stroke-width="0.8"/><line x1="1058" y1="826" x2="1088" y2="826" stroke="#000" stroke-width="0.8"/><line x1="1073" y1="811" x2="1073" y2="841" stroke="#000" stroke-width="0.8"/>
<line x1="1073" y1="651" x2="1073" y2="684" stroke="#000" marker-end="url(#ah)"/>
<line x1="1073" y1="721" x2="1073" y2="753" stroke="#000" marker-end="url(#ah)"/>
<line x1="1073" y1="790" x2="1073" y2="811" stroke="#000" marker-end="url(#ah)"/>
<line x1="1073" y1="841" x2="1073" y2="876" stroke="#000" marker-end="url(#ah)"/>
<polyline points="1073,666 1192,666 1192,826 1089,826" fill="none" stroke="#000" stroke-width="1.5" marker-end="url(#ah)"/>

<!-- Panel c/d -->
<text x="1256" y="600" font-size="16" font-weight="bold">c.Window partition</text>
<polygon points="1262,678 1300,640 1320,640 1284,678" fill="#eef2fa" stroke="#333" stroke-width="0.5"/>
<polygon points="1284,678 1320,640 1320,664 1284,700" fill="url(#gS)" stroke="#333" stroke-width="0.5"/>
<rect x="1262" y="678" width="22" height="22" fill="url(#gF)" stroke="#333" stroke-width="0.5"/>
<rect x="1259" y="670" width="28" height="35" fill="none" stroke="#c00000" stroke-width="1.2"/>
<polyline points="1289,680 1294,680 1300,688 1294,697 1289,697" fill="none" stroke="#c00000" stroke-width="1"/>
<rect x="1330" y="672" width="22" height="22" fill="url(#gF)" stroke="#333" stroke-width="0.6"/>
<line x1="1357" y1="683" x2="1425" y2="683" stroke="#000" stroke-width="2" marker-end="url(#ah)"/>
<rect x="1432" y="665" width="22" height="32" fill="#000"/><rect x="1432" y="665" width="15" height="24" fill="url(#gF)"/>
<line x1="1458" y1="683" x2="1473" y2="683" stroke="#000" stroke-width="2" marker-end="url(#ah)"/>
<g stroke="#333" stroke-width="0.5" fill="url(#gF)">
<rect x="1478" y="654" width="12" height="15"/><rect x="1483" y="662" width="12" height="15"/><rect x="1488" y="670" width="12" height="15"/><rect x="1493" y="678" width="12" height="15"/><rect x="1503" y="686" width="14" height="16"/>
</g>
<g font-size="16" text-anchor="middle">
<text x="1326" y="716">64 ×64</text>
<text x="1400" y="718">70 ×70</text>
<text x="1488" y="718">14 ×14 ×25</text>
</g>
<text x="1256" y="753" font-size="16" font-weight="bold">d.Window unpartition</text>
<rect x="1294" y="795" width="30" height="32" fill="url(#gF)" stroke="#333" stroke-width="0.6"/>
<line x1="1342" y1="811" x2="1380" y2="811" stroke="#000" stroke-width="2" marker-end="url(#ah)"/>
<rect x="1392" y="798" width="20" height="22" fill="url(#gF)" stroke="#333" stroke-width="0.6"/>
<line x1="1424" y1="811" x2="1470" y2="811" stroke="#000" stroke-width="2" marker-end="url(#ah)"/>
<polygon points="1478,813 1508,778 1534,778 1500,813" fill="#eef2fa" stroke="#333" stroke-width="0.5"/>
<polygon points="1500,813 1534,778 1534,800 1500,836" fill="url(#gS)" stroke="#333" stroke-width="0.5"/>
<rect x="1478" y="813" width="22" height="23" fill="url(#gF)" stroke="#333" stroke-width="0.5"/>
<g font-size="16" text-anchor="middle">
<text x="1294" y="858">70 ×70</text>
<text x="1390" y="858">64 ×64</text>
<text x="1490" y="858">Dim = 768</text>
</g>
</svg>
</body></html>
